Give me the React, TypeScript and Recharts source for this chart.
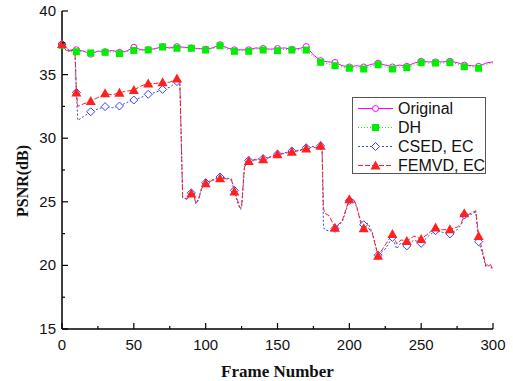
import { LineChart, Line, XAxis, YAxis, Legend, Label } from "recharts";

// frame numbers sampled for the two near-lossless curves
const topFrames = [
  0, 3, 5, 10, 15, 20, 25, 30, 35, 40,
  45, 50, 55, 60, 65, 70, 75, 80, 85, 90,
  95, 100, 105, 110, 115, 120, 125, 130, 135, 140,
  145, 150, 155, 160, 165, 170, 175, 180, 185, 190,
  195, 200, 205, 210, 215, 220, 225, 230, 235, 240,
  245, 250, 255, 260, 265, 270, 275, 280, 285, 290,
  295, 300,
];

const originalPsnr = [
  37.35, 36.9, 36.85, 36.95, 36.85, 36.6, 36.85, 36.8, 36.9, 36.75,
  36.85, 37.15, 36.95, 36.95, 37.05, 37.2, 37.1, 37.2, 37.15, 37.1,
  37.05, 37.0, 37.1, 37.35, 37.1, 36.95, 36.95, 36.95, 37.1, 37.05,
  37.0, 37.05, 37.1, 36.98, 37.05, 37.2, 36.55, 36.1, 36.0, 35.95,
  35.7, 35.6, 35.7, 35.6, 35.8, 35.9, 35.75, 35.6, 35.75, 35.65,
  35.9, 36.05, 36.0, 36.0, 36.0, 36.05, 35.95, 35.75, 35.7, 35.65,
  35.9, 36.0,
];

const dhPsnr = [
  37.3, 36.85, 36.8, 36.8, 36.8, 36.7, 36.8, 36.75, 36.8, 36.65,
  36.8, 36.9, 36.9, 36.93, 37.0, 37.17, 37.05, 37.07, 37.1, 37.07,
  37.0, 36.93, 37.05, 37.27, 37.0, 36.83, 36.9, 36.83, 37.0, 36.93,
  36.95, 36.88, 37.0, 36.93, 36.95, 36.93, 36.4, 35.97, 35.85, 35.7,
  35.6, 35.5, 35.55, 35.44, 35.65, 35.78, 35.6, 35.44, 35.6, 35.54,
  35.75, 35.94, 35.9, 35.91, 35.9, 35.94, 35.85, 35.62, 35.6, 35.5,
  35.8, 35.9,
];

// frame numbers sampled for the two error-concealment curves
const lowFrames = [
  0, 5, 9, 10, 11, 15, 20, 25, 30, 35,
  40, 45, 50, 55, 60, 65, 70, 75, 80, 82,
  84, 87, 90, 92, 93, 95, 97, 100, 105, 110,
  115, 118, 120, 122, 124, 125, 127, 130, 135, 140,
  145, 150, 155, 160, 165, 170, 175, 178, 180, 181,
  182, 183, 186, 190, 195, 200, 203, 205, 208, 210,
  213, 216, 220, 225, 230, 233, 236, 240, 245, 250,
  255, 260, 265, 270, 275, 278, 280, 283, 288, 290,
  293, 295, 298, 300,
];

const csedPsnr = [
  37.4, 36.9, 37.0, 33.6, 31.4, 31.7, 32.08, 32.3, 32.48, 32.4,
  32.53, 32.8, 33.0, 33.2, 33.45, 33.6, 33.84, 34.0, 34.45, 34.4,
  25.3, 25.2, 25.7, 25.6, 24.9, 25.2, 26.0, 26.5, 26.75, 26.95,
  26.85, 26.8, 25.9, 25.0, 24.4, 24.5, 27.7, 28.25, 28.35, 28.4,
  28.55, 28.75, 28.85, 29.0, 29.05, 29.25, 29.35, 29.25, 29.4, 29.3,
  23.0, 22.8, 22.7, 22.9, 23.4, 25.1, 25.2, 24.6, 23.5, 23.2,
  23.3, 22.6, 20.8, 21.3, 22.2, 21.3, 21.8, 21.53, 22.0, 21.74,
  22.3, 22.73, 22.6, 22.47, 22.8, 23.2, 23.96, 23.9, 24.2, 21.86,
  20.8, 19.9, 20.0, 19.6,
];

const femvdPsnr = [
  37.4, 36.9, 37.0, 33.6, 32.5, 32.7, 32.92, 33.2, 33.53, 33.4,
  33.58, 33.7, 33.79, 34.1, 34.31, 34.3, 34.39, 34.4, 34.7, 34.6,
  25.4, 25.2, 25.65, 25.5, 24.85, 25.1, 26.0, 26.45, 26.7, 26.85,
  26.8, 26.7, 25.8, 25.2, 24.5, 24.6, 27.8, 28.2, 28.3, 28.34,
  28.5, 28.73, 28.8, 28.94, 29.0, 29.2, 29.3, 29.2, 29.41, 29.3,
  24.5, 24.1, 23.9, 22.96, 23.5, 25.2, 25.2, 24.7, 23.3, 22.92,
  23.0, 22.5, 20.76, 21.6, 22.47, 21.7, 22.0, 21.92, 22.3, 22.08,
  22.5, 22.97, 22.8, 22.84, 23.0, 23.3, 24.1, 24.0, 24.3, 22.31,
  21.0, 20.0, 20.1, 19.7,
];

const xTicks = [0, 25, 50, 75, 100, 125, 150, 175, 200, 225, 250, 275, 300];
const yTicks = [15, 17.5, 20, 22.5, 25, 27.5, 30, 32.5, 35, 37.5, 40];

const topData = topFrames.map((frame, i) => ({ frame, original: originalPsnr[i], dh: dhPsnr[i] }));
const lowData = lowFrames.map((frame, i) => ({ frame, csed: csedPsnr[i], femvd: femvdPsnr[i] }));

const series = [
  { key: "original", name: "Original", color: "#ff00ff", dash: undefined, shape: "circle", data: topData },
  { key: "dh", name: "DH", color: "#00ee00", dash: "1 2", shape: "square", data: topData },
  { key: "csed", name: "CSED, EC", color: "#3344ff", dash: "2 2", shape: "diamond", data: lowData },
  { key: "femvd", name: "FEMVD, EC", color: "#ff2020", dash: "5 2", shape: "triangle", data: lowData },
];

const tickFont = { fontFamily: "Liberation Sans, Arial, sans-serif", fontSize: 15, fill: "#111" };

function Marker({ shape, color, cx, cy }: any) {
  if (shape === "circle")
    return <circle cx={cx} cy={cy} r={3} fill="#fff" stroke={color} strokeWidth={1} />;
  if (shape === "square")
    return <rect x={cx - 3.5} y={cy - 3.5} width={7} height={7} fill={color} />;
  if (shape === "diamond")
    return (
      <polygon
        points={`${cx},${cy - 4} ${cx + 4},${cy} ${cx},${cy + 4} ${cx - 4},${cy}`}
        fill="#fff"
        stroke={color}
        strokeWidth={1}
      />
    );
  return <polygon points={`${cx},${cy - 5} ${cx + 5},${cy + 4} ${cx - 5},${cy + 4}`} fill={color} />;
}

const makeDot = (shape: string, color: string) => (p: any) => {
  const { cx, cy, payload, index } = p;
  if (payload.frame % 10 !== 0 || payload.frame === 300) return <g key={index} />;
  return (
    <g key={index}>
      <Marker shape={shape} color={color} cx={cx} cy={cy} />
    </g>
  );
};

const BottomTick = (p: any) => {
  const major = p.payload.value % 50 === 0;
  return (
    <g>
      <line x1={p.x} x2={p.x} y1={p.y} y2={p.y - (major ? 6 : 3)} stroke="#000" strokeWidth={1.2} />
      {major && (
        <text x={p.x} y={p.y + 21} textAnchor="middle" {...tickFont}>
          {p.payload.value}
        </text>
      )}
    </g>
  );
};

const TopTick = (p: any) => {
  const major = p.payload.value % 50 === 0;
  return <line x1={p.x} x2={p.x} y1={p.y} y2={p.y + (major ? 6 : 3)} stroke="#000" strokeWidth={1.2} />;
};

const LeftTick = (p: any) => {
  const major = p.payload.value % 5 === 0;
  return (
    <g>
      <line x1={p.x} x2={p.x + (major ? 6 : 3)} y1={p.y} y2={p.y} stroke="#000" strokeWidth={1.2} />
      {major && (
        <text x={p.x - 6} y={p.y + 5} textAnchor="end" {...tickFont}>
          {p.payload.value}
        </text>
      )}
    </g>
  );
};

const RightTick = (p: any) => {
  const major = p.payload.value % 5 === 0;
  return <line x1={p.x} x2={p.x - (major ? 6 : 3)} y1={p.y} y2={p.y} stroke="#000" strokeWidth={1.2} />;
};

function LegendBox() {
  return (
    <div
      style={{
        width: 134,
        height: 77,
        boxSizing: "border-box",
        border: "1px solid #555",
        background: "#fff",
        paddingTop: 1,
      }}
    >
      {series.map((s) => (
        <div key={s.key} style={{ display: "flex", alignItems: "center", height: 19, whiteSpace: "nowrap" }}>
          <svg width={40} height={19} style={{ marginLeft: 5, flex: "none" }}>
            <line x1={0} x2={35} y1={9.5} y2={9.5} stroke={s.color} strokeDasharray={s.dash} strokeWidth={1} />
            <Marker shape={s.shape} color={s.color} cx={17.5} cy={9.5} />
          </svg>
          <span style={{ fontFamily: "Liberation Sans, Arial, sans-serif", fontSize: 16, color: "#111" }}>
            {s.name}
          </span>
        </div>
      ))}
    </div>
  );
}

export default function App() {
  return (
    <div style={{ position: "absolute", left: 0, top: 0, width: 513, height: 381, background: "#fff" }}>
      <LineChart width={513} height={381} margin={{ top: 11, right: 20, bottom: 0, left: 0 }}>
        <XAxis
          dataKey="frame"
          type="number"
          domain={[0, 300]}
          ticks={xTicks}
          interval={0}
          height={52}
          tickSize={0}
          tickMargin={0}
          tickLine={false}
          tick={<BottomTick />}
          axisLine={{ stroke: "#000", strokeWidth: 1.5 }}
        >
          <Label
            content={(p: any) => (
              <text
                x={p.viewBox.x + p.viewBox.width / 2}
                y={p.viewBox.y + 48}
                textAnchor="middle"
                fontFamily="Liberation Serif, Times New Roman, serif"
                fontWeight="bold"
                fontSize={17}
                fill="#111"
              >
                Frame Number
              </text>
            )}
          />
        </XAxis>
        <XAxis
          xAxisId="top"
          orientation="top"
          dataKey="frame"
          type="number"
          domain={[0, 300]}
          ticks={xTicks}
          interval={0}
          height={0}
          tickSize={0}
          tickMargin={0}
          tickLine={false}
          tick={<TopTick />}
          axisLine={{ stroke: "#000", strokeWidth: 1.5 }}
        />
        <YAxis
          type="number"
          domain={[15, 40]}
          ticks={yTicks}
          interval={0}
          width={62}
          tickSize={0}
          tickMargin={0}
          tickLine={false}
          tick={<LeftTick />}
          axisLine={{ stroke: "#000", strokeWidth: 1.5 }}
        >
          <Label
            content={() => {
              const x = 22;
              const y = 181;
              return (
                <text
                  x={x}
                  y={y}
                  transform={`rotate(-90 ${x} ${y})`}
                  textAnchor="middle"
                  dominantBaseline="central"
                  fontFamily="Liberation Serif, Times New Roman, serif"
                  fontWeight="bold"
                  fontSize={16}
                  fill="#111"
                >
                  PSNR(dB)
                </text>
              );
            }}
          />
        </YAxis>
        <YAxis
          yAxisId="right"
          orientation="right"
          type="number"
          domain={[15, 40]}
          ticks={yTicks}
          interval={0}
          width={0}
          tickSize={0}
          tickMargin={0}
          tickLine={false}
          tick={<RightTick />}
          axisLine={{ stroke: "#000", strokeWidth: 1.5 }}
        />
        {series.map((s) => (
          <Line
            key={s.key}
            data={s.data}
            dataKey={s.key}
            name={s.name}
            type="linear"
            stroke={s.color}
            strokeWidth={1}
            strokeDasharray={s.dash}
            dot={makeDot(s.shape, s.color)}
            activeDot={false}
            isAnimationActive={false}
          />
        ))}
        <Legend
          layout="horizontal"
          verticalAlign="middle"
          align="center"
          content={() => <LegendBox />}
          wrapperStyle={{ position: "absolute", left: 352, top: 97, width: 134, height: 77 }}
        />
      </LineChart>
    </div>
  );
}
